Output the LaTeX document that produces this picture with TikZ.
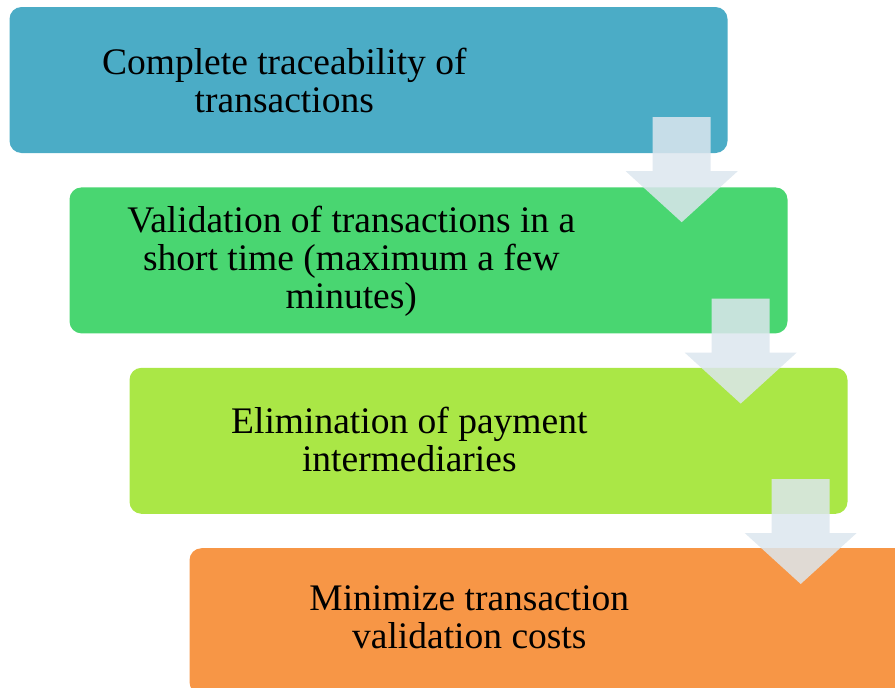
\documentclass[tikz,border=0pt]{standalone}
\usepackage{fontspec}
\setmainfont{Liberation Serif}
\usetikzlibrary{positioning}
\definecolor{stepblue}{HTML}{4BACC6}
\definecolor{stepgreen}{HTML}{49D671}
\definecolor{steplime}{HTML}{AAE746}
\definecolor{steporange}{HTML}{F79646}
\definecolor{arrowgray}{HTML}{DCE6EE}
\tikzset{
  stepbox/.style={rectangle,rounded corners=12pt,minimum width=718pt,
    minimum height=146pt,inner sep=0pt},
  steptext/.style={align=center,inner sep=0pt,
    font=\fontsize{37.5}{38}\selectfont},
  steparrow/.pic={
    \fill[arrowgray,opacity=0.85] (-29,0) -- (29,0) -- (29,-54) -- (56,-54)
      -- (0,-105) -- (-56,-54) -- (-29,-54) -- cycle;
  }
}

\begin{document}
\begin{tikzpicture}[x=1pt,y=1pt]
  \useasboundingbox (0,0) rectangle (895,-688);
  \clip (0,0) rectangle (895,-688);
  % steps
  \node[stepbox,fill=stepblue] (s1) at (368.5,-80) {};
  \node[stepbox,fill=stepgreen,below=34pt of s1,xshift=60pt] (s2) {};
  \node[stepbox,fill=steplime,below=34pt of s2,xshift=60pt] (s3) {};
  \node[stepbox,fill=steporange,below=34pt of s3,xshift=60pt] (s4) {};
  % labels
  \node[steptext] (t1) at ([xshift=275pt]s1.west) {Complete traceability of\\transactions};
  \node[steptext] (t2) at ([xshift=282pt,yshift=-1pt]s2.west) {Validation of transactions in a\\short time (maximum a few\\minutes)};
  \node[steptext] (t3) at ([xshift=280pt,yshift=1pt]s3.west) {Elimination of payment\\intermediaries};
  \node[steptext] (t4) at ([xshift=280pt,yshift=4pt]s4.west) {Minimize transaction\\validation costs};
  % arrows
  \pic at ([xshift=-46pt,yshift=36pt]s1.south east) {steparrow};
  \pic at ([xshift=-47pt,yshift=35pt]s2.south east) {steparrow};
  \pic at ([xshift=-47pt,yshift=35pt]s3.south east) {steparrow};
\end{tikzpicture}
\end{document}
